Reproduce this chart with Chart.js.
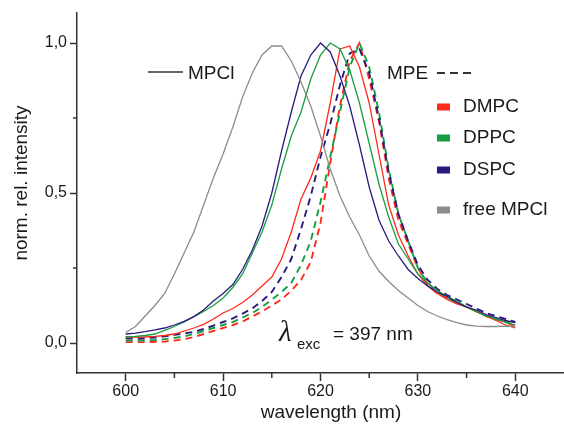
<!DOCTYPE html>
<html>
<head>
<meta charset="utf-8">
<script src="https://cdn.jsdelivr.net/npm/chart.js@4"></script>
<style>
  html, body { margin: 0; padding: 0; background: #fff; }
  #wrap { width: 564px; height: 425px; }
</style>
</head>
<body>
<div id="wrap"><canvas id="espectros" width="564" height="425"></canvas></div>
<script>
// wavelength (nm)
const wavelengths = [600,601,602,603,604,605,606,607,608,609,610,611,612,613,614,615,616,617,618,619,620,
                     621,622,623,624,625,626,627,628,629,630,631,632,633,634,635,636,637,638,639,640];

// MPCl in lipid (solid)
const dmpcMpcl = [0.02,0.02,0.02,0.022,0.025,0.03,0.04,0.05,0.062,0.08,0.10,0.115,0.135,0.16,0.19,0.22,0.28,0.37,0.48,0.55,0.64,
                  0.80,0.98,0.99,0.92,0.80,0.63,0.46,0.36,0.29,0.23,0.19,0.165,0.145,0.13,0.12,0.105,0.09,0.075,0.06,0.05];
const dppcMpcl = [0.02,0.022,0.025,0.03,0.042,0.055,0.07,0.088,0.105,0.125,0.15,0.185,0.23,0.30,0.37,0.46,0.58,0.69,0.77,0.88,0.96,
                  1.0,0.98,0.91,0.80,0.665,0.53,0.42,0.33,0.28,0.23,0.20,0.175,0.155,0.14,0.12,0.105,0.09,0.08,0.07,0.06];
const dspcMpcl = [0.03,0.033,0.038,0.044,0.05,0.06,0.072,0.088,0.11,0.14,0.165,0.195,0.245,0.31,0.39,0.50,0.64,0.77,0.89,0.96,1.0,
                  0.97,0.89,0.79,0.66,0.52,0.41,0.34,0.29,0.245,0.215,0.19,0.17,0.155,0.135,0.12,0.11,0.095,0.085,0.075,0.068];

// MPE in lipid (dashed)
const dmpcMpe = [0.003,0.003,0.003,0.004,0.005,0.008,0.013,0.02,0.03,0.04,0.05,0.06,0.072,0.088,0.105,0.125,0.145,0.175,0.21,0.27,0.40,
                 0.60,0.79,0.94,1.0,0.88,0.74,0.55,0.41,0.33,0.25,0.195,0.165,0.15,0.135,0.12,0.105,0.09,0.08,0.07,0.055];
const dppcMpe = [0.008,0.008,0.009,0.01,0.013,0.017,0.022,0.03,0.04,0.05,0.06,0.07,0.085,0.10,0.12,0.145,0.17,0.2,0.26,0.34,0.47,
                 0.62,0.77,0.92,1.0,0.92,0.77,0.58,0.43,0.34,0.25,0.2,0.17,0.15,0.135,0.12,0.105,0.09,0.08,0.07,0.06];
const dspcMpe = [0.015,0.015,0.016,0.018,0.022,0.027,0.032,0.037,0.047,0.058,0.07,0.082,0.098,0.115,0.14,0.17,0.22,0.28,0.38,0.49,0.62,
                 0.73,0.86,0.965,0.98,0.90,0.75,0.57,0.43,0.34,0.26,0.21,0.18,0.16,0.145,0.13,0.115,0.10,0.09,0.08,0.07];

// free MPCl
const freeMpcl = [0.035,0.055,0.09,0.125,0.165,0.23,0.30,0.37,0.46,0.55,0.63,0.72,0.82,0.90,0.96,0.99,0.99,0.94,0.87,0.79,0.69,
                  0.58,0.49,0.42,0.36,0.29,0.24,0.205,0.175,0.15,0.125,0.105,0.09,0.078,0.068,0.06,0.056,0.055,0.055,0.056,0.055];

const xTicks = [600, 610, 620, 630, 640];
const xMinor = [605, 615, 625, 635];
const yTicks = [0, 0.5, 1.0];
const yMinor = [0.25, 0.75];

const colRojo = '#ff2a1a';
const colVerde = '#14a040';
const colAzul = '#2b1a7d';
const colGris = '#8c8c8c';
const colEje = '#333333';
const fuente = '"Liberation Sans", Arial, sans-serif';

const puntos = (ys) => ys.map((y, i) => ({ x: wavelengths[i], y: y }));

const serie = (ys, color, dashed) => ({
    data: puntos(ys),
    borderColor: color,
    borderWidth: dashed ? 1.9 : 1.3,
    borderDash: dashed ? [7, 5] : [],
    pointRadius: 0,
    tension: 0,
    fill: false
});

// textos, leyenda y ticks menores
const anotaciones = {
    id: 'anotaciones',
    afterDraw(chart) {
        const ctx = chart.ctx;
        const xs = chart.scales.x, ys = chart.scales.y;
        ctx.save();

        // ticks menores
        ctx.strokeStyle = colEje;
        ctx.lineWidth = 1.5;
        ctx.beginPath();
        xMinor.forEach(v => {
            const px = xs.getPixelForValue(v);
            ctx.moveTo(px, ys.bottom);
            ctx.lineTo(px, ys.bottom + 5);
        });
        yMinor.forEach(v => {
            const py = ys.getPixelForValue(v);
            ctx.moveTo(xs.left, py);
            ctx.lineTo(xs.left - 4, py);
        });
        ctx.stroke();

        ctx.fillStyle = '#1a1a1a';
        ctx.textBaseline = 'middle';
        ctx.textAlign = 'left';
        ctx.font = '19px ' + fuente;

        // MPCl solid sample
        ctx.beginPath();
        ctx.moveTo(148, 72);
        ctx.lineTo(183, 72);
        ctx.stroke();
        ctx.fillText('MPCl', 188, 74);

        // MPE dashed sample
        ctx.fillText('MPE', 387, 74);
        ctx.setLineDash([8, 5]);
        ctx.lineWidth = 2;
        ctx.beginPath();
        ctx.moveTo(437, 73);
        ctx.lineTo(474, 73);
        ctx.stroke();
        ctx.setLineDash([]);

        const items = [['DMPC', colRojo, 107], ['DPPC', colVerde, 138], ['DSPC', colAzul, 170], ['free MPCl', colGris, 210]];
        items.forEach(([txt, c, y]) => {
            ctx.fillStyle = c;
            ctx.fillRect(437, y - 3.5, 13, 7);
            ctx.fillStyle = '#1a1a1a';
            ctx.fillText(txt, 463, y);
        });

        // lambda exc
        ctx.textBaseline = 'alphabetic';
        ctx.font = 'italic 29px "Liberation Serif", serif';
        ctx.fillText('λ', 279, 341);
        ctx.font = '15px ' + fuente;
        ctx.fillText('exc', 297, 349);
        ctx.font = '19px ' + fuente;
        ctx.fillText('= 397 nm', 333, 340);

        // titulos de ejes
        ctx.textBaseline = 'middle';
        ctx.textAlign = 'center';
        ctx.fillText('wavelength (nm)', 331, 413);
        ctx.translate(22, 183);
        ctx.rotate(-Math.PI / 2);
        ctx.fillText('norm. rel. intensity', 0, 0);
        ctx.restore();
    }
};

const config = {
    type: 'line',
    data: {
        datasets: [
            serie(freeMpcl, colGris, false),
            serie(dspcMpcl, colAzul, false),
            serie(dppcMpcl, colVerde, false),
            serie(dmpcMpcl, colRojo, false),
            serie(dspcMpe, colAzul, true),
            serie(dppcMpe, colVerde, true),
            serie(dmpcMpe, colRojo, true)
        ]
    },
    options: {
        responsive: false,
        animation: false,
        devicePixelRatio: 1,
        layout: { padding: { top: 13, right: 0, left: 0, bottom: 0 } },
        plugins: { legend: { display: false }, tooltip: { enabled: false } },
        scales: {
            x: {
                type: 'linear',
                min: 595,
                max: 645,
                afterBuildTicks: s => { s.ticks = xTicks.map(v => ({ value: v })); },
                afterFit: s => { s.height = 52; },
                border: { display: true, color: colEje, width: 1.5 },
                grid: { display: true, drawOnChartArea: false, drawTicks: true, tickLength: 8, tickColor: colEje, tickWidth: 1.5 },
                ticks: { color: '#1a1a1a', font: { size: 16, family: fuente }, padding: 1, maxRotation: 0 }
            },
            y: {
                type: 'linear',
                min: -0.1,
                max: 1.1,
                afterBuildTicks: s => { s.ticks = yTicks.map(v => ({ value: v })); },
                afterFit: s => { s.width = 77; },
                border: { display: true, color: colEje, width: 1.5 },
                grid: { display: true, drawOnChartArea: false, drawTicks: true, tickLength: 7, tickColor: colEje, tickWidth: 1.5 },
                ticks: {
                    color: '#1a1a1a',
                    font: { size: 16, family: fuente },
                    padding: 3,
                    callback: v => v.toFixed(1).replace('.', ',')
                }
            }
        }
    },
    plugins: [anotaciones]
};

new Chart(document.getElementById('espectros'), config);
</script>
</body>
</html>
